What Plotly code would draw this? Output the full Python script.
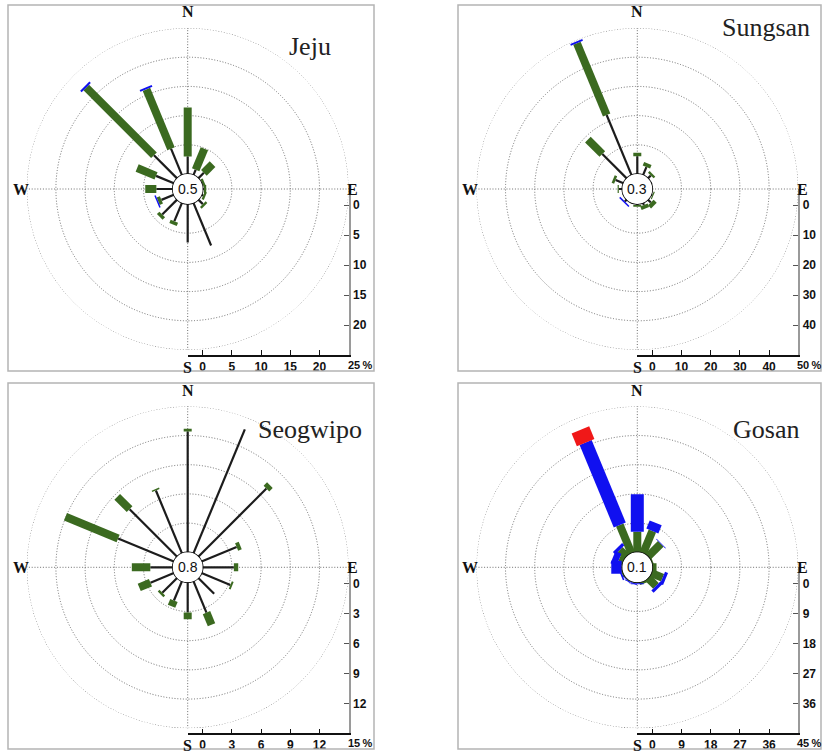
import plotly.graph_objects as go

# ---------------- data ----------------
stations = ["Jeju", "Sungsan", "Seogwipo", "Gosan"]
calm_pct = ["0.5", "0.3", "0.8", "0.1"]
scale_max = [25, 50, 15, 45]
scale_step = [5, 10, 3, 9]
directions = ["N", "NNE", "NE", "ENE", "E", "ESE", "SE", "SSE",
              "S", "SSW", "SW", "WSW", "W", "WNW", "NW", "NNW"]
dir_deg = [i * 22.5 for i in range(16)]

# frequency (%) per speed class, per direction (N .. NNW)
jeju_c1 = [3.0, 1.0, 1.35, 0.1, 0.2, 0.3, 1.1, 7.9, 6.6, 3.4, 3.6, 2.3, 2.8, 3.3, 5.6, 4.9]
jeju_c2 = [8.4, 3.9, 2.1, 0.4, 0.4, 0.4, 0.4, 0.0, 0.0, 0.6, 0.6, 0.6, 1.9, 3.5, 16.4, 11.0]
jeju_c3 = [0, 0, 0, 0, 0, 0, 0, 0, 0, 0, 0, 0.25, 0, 0, 0.35, 0.35]
jeju_c4 = [0] * 16

sungsan_c1 = [6.1, 3.0, 1.4, 0.3, 0.2, 0.4, 1.4, 0.8, 0.3, 0.2, 0.9, 0.2, 1.2, 2.9, 11.8, 22.3]
sungsan_c2 = [1.2, 1.3, 0.8, 0, 0, 0.4, 1.5, 1.3, 0.6, 0, 0, 0, 0.4, 0.9, 7.0, 26.6]
sungsan_c3 = [0, 0, 0, 0, 0, 0, 0, 0, 0, 0, 0.5, 0, 0, 0, 0, 0.6]
sungsan_c4 = [0] * 16

seogwipo_c1 = [12.4, 13.8, 9.9, 3.9, 3.2, 3.2, 2.3, 3.5, 3.1, 2.15, 2.15, 2.6, 2.3, 6.2, 6.9, 7.0]
seogwipo_c2 = [0.3, 0, 0.5, 0.4, 0.45, 0.2, 0, 1.35, 0.7, 0.65, 0.25, 1.25, 1.9, 5.85, 1.8, 0.15]
seogwipo_c3 = [0] * 16
seogwipo_c4 = [0] * 16

gosan_c1 = [0] * 16
gosan_c2 = [6.3, 7.5, 5.6, 0.5, 1.3, 3.8, 3.5, 0.8, 0.3, 0.3, 0.3, 0.5, 0.2, 1.5, 3.0, 9.5]
gosan_c3 = [11.6, 2.7, 0.2, 0, 0, 1.0, 1.0, 0, 0.3, 0.2, 0.2, 0.5, 3.2, 2.0, 1.0, 27.5]
gosan_c4 = [0, 0, 0, 0, 0, 0, 0, 0, 0, 0, 0, 0, 0, 0, 0, 4.2]

station_classes = [
    [jeju_c1, jeju_c2, jeju_c3, jeju_c4],
    [sungsan_c1, sungsan_c2, sungsan_c3, sungsan_c4],
    [seogwipo_c1, seogwipo_c2, seogwipo_c3, seogwipo_c4],
    [gosan_c1, gosan_c2, gosan_c3, gosan_c4],
]

# ---------------- styles / layout constants ----------------
W, H = 823, 755
class_colors = ["#1c1c1c", "#3b6a20", "#1010f0", "#f01818"]
class_widths = [2.2, 8, 13, 19]
R = 161.0       # polar radius (px)
R0 = 15.0       # calm circle radius (px)
RY = 166.0      # vertical scale bar length (px)
R0Y = 16.0
centers = [(187.7, 189.0), (637.3, 189.0), (187.7, 567.3), (637.3, 567.3)]
title_pos = [(310, 46), (766, 28), (310, 429), (766, 429)]
frames = [(8, 5, 374, 371), (458, 5, 821, 371), (8, 383, 374, 749), (458, 383, 821, 749)]
GRID = "#6e6e6e"
GRID_DASH = "1px,1.8px"


def px(x):
    return x / W


def py(y):
    return 1 - y / H


fig = go.Figure()
layout = dict(width=W, height=H, margin=dict(l=0, r=0, t=0, b=0),
              paper_bgcolor="white", plot_bgcolor="rgba(0,0,0,0)",
              showlegend=False)
annotations = []
shapes = []
ring_theta = list(range(0, 361, 3))

for i, name in enumerate(stations):
    n = i + 1
    sub = "polar" if n == 1 else f"polar{n}"
    xs = "x" if n == 1 else f"x{n}"
    ys = "y" if n == 1 else f"y{n}"
    cx, cy = centers[i]
    mx = scale_max[i]
    st = scale_step[i]

    # outer dotted ring at the scale maximum
    fig.add_trace(go.Scatterpolar(
        r=[mx] * len(ring_theta), theta=ring_theta, mode="lines", subplot=sub,
        cliponaxis=False, line=dict(color=GRID, width=1, dash=GRID_DASH),
        hoverinfo="skip", showlegend=False))

    # stacked speed-class segments
    start = [0.0] * 16
    for c in range(4):
        vals = station_classes[i][c]
        rr, tt = [], []
        for k in range(16):
            if vals[k] > 0:
                rr += [start[k], start[k] + vals[k], None]
                tt += [dir_deg[k], dir_deg[k], None]
            start[k] += vals[k]
        if rr:
            fig.add_trace(go.Scatterpolar(
                r=rr, theta=tt, mode="lines", subplot=sub, cliponaxis=False,
                line=dict(color=class_colors[c], width=class_widths[c]),
                hoverinfo="skip", showlegend=False))

    # calm circle
    fig.add_trace(go.Scatterpolar(
        r=[0] * len(ring_theta), theta=ring_theta, mode="lines", subplot=sub,
        cliponaxis=False, line=dict(color="#111", width=1.6),
        hoverinfo="skip", showlegend=False))

    layout[sub] = dict(
        domain=dict(x=[px(cx - R), px(cx + R)], y=[py(cy + R), py(cy - R)]),
        hole=R0 / R, bgcolor="rgba(0,0,0,0)",
        radialaxis=dict(range=[0, mx], tickvals=[st * k for k in range(1, 5)],
                        showticklabels=False, ticks="", showline=False,
                        gridcolor=GRID, griddash=GRID_DASH, gridwidth=1),
        angularaxis=dict(rotation=90, direction="clockwise", tickvals=[0, 90, 180, 270],
                         showticklabels=False, ticks="", showline=False,
                         gridcolor=GRID, griddash=GRID_DASH, gridwidth=1))

    # scale bars (cartesian)
    fig.add_trace(go.Scatter(x=[], y=[], xaxis=xs, yaxis=ys, mode="markers",
                             hoverinfo="skip", showlegend=False))
    tickfont = dict(family="Liberation Sans", size=12, color="#111", weight="bold")
    xname = "xaxis" if n == 1 else f"xaxis{n}"
    yname = "yaxis" if n == 1 else f"yaxis{n}"
    layout[xname] = dict(
        domain=[px(cx), px(cx + R)], anchor=ys,
        range=[-R0 / (R - R0) * mx, mx],
        tickvals=[st * k for k in range(6)],
        ticktext=[str(st * k) for k in range(5)] + [""],
        showgrid=False, zeroline=False, showline=True, linecolor="#111", linewidth=1.5,
        ticks="inside", ticklen=5, tickcolor="#111", tickwidth=1.2,
        tickfont=tickfont, fixedrange=True)
    layout[yname] = dict(
        domain=[py(cy + RY), py(cy)], anchor=xs, side="right",
        range=[mx, -R0Y / (RY - R0Y) * mx],
        tickvals=[st * k for k in range(5)],
        ticktext=[str(st * k) for k in range(5)],
        showgrid=False, zeroline=False, showline=True, linecolor="#9a9a9a", linewidth=2,
        ticks="inside", ticklen=5, tickcolor="#555", tickwidth=1.2,
        tickfont=tickfont, fixedrange=True)
    annotations.append(dict(text=f"{mx}\u2009%", xref=xs, yref=ys, x=mx, y=mx,
                            xanchor="left", yanchor="top", xshift=-3, yshift=-2,
                            showarrow=False,
                            font=dict(family="Liberation Sans", size=11, color="#111",
                                      weight="bold")))

    # compass letters
    cfont = dict(family="Liberation Serif", size=16, color="#111", weight="bold")
    for lab, dx, dy in [("N", 0, -177), ("S", 0, 178), ("W", -167, 0), ("E", 165, 0)]:
        annotations.append(dict(text=lab, xref="paper", yref="paper",
                                x=px(cx + dx), y=py(cy + dy), xanchor="center",
                                yanchor="middle", showarrow=False, font=cfont))
    # calm value
    annotations.append(dict(text=calm_pct[i], xref="paper", yref="paper",
                            x=px(cx), y=py(cy), xanchor="center", yanchor="middle",
                            showarrow=False,
                            font=dict(family="Liberation Sans", size=14, color="#111")))
    # station title
    tx, ty = title_pos[i]
    annotations.append(dict(text=name, xref="paper", yref="paper",
                            x=px(tx), y=py(ty), xanchor="center", yanchor="middle",
                            showarrow=False,
                            font=dict(family="Liberation Serif", size=26, color="#222")))
    # panel frame
    x0, y0, x1, y1 = frames[i]
    shapes.append(dict(type="rect", xref="paper", yref="paper",
                       x0=px(x0), x1=px(x1), y0=py(y1), y1=py(y0),
                       line=dict(color="#b4b4b4", width=1.5)))

layout["annotations"] = annotations
layout["shapes"] = shapes
fig.update_layout(**layout)
fig.write_html("out.html")
